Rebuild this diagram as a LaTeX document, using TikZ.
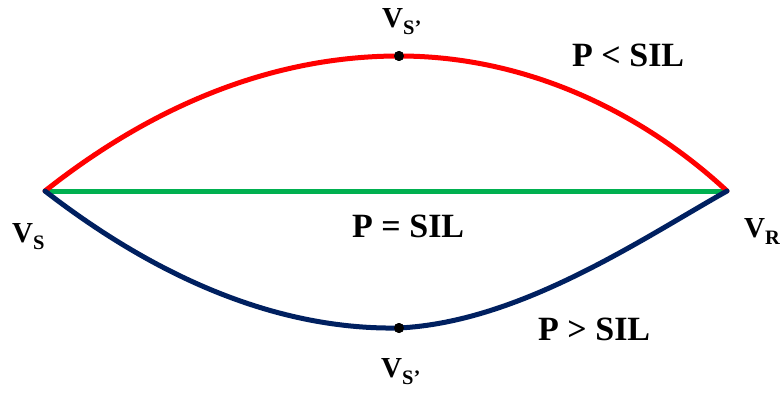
\documentclass[tikz,border=0pt]{standalone}
\usepackage{fontspec}
\setmainfont{Liberation Serif}
\definecolor{cred}{RGB}{255,0,0}
\definecolor{cgreen}{RGB}{0,176,80}
\definecolor{cblue}{RGB}{0,32,96}
\newcommand{\vsub}[1]{V\raisebox{-7pt}{\fontsize{20.5}{20.5}\selectfont #1}}
\begin{document}
\begin{tikzpicture}[x=1pt,y=-1pt,
  curve/.style={line width=5pt},
  lbl/.style={font=\fontsize{34}{34}\selectfont\bfseries, inner sep=0pt, anchor=base west},
  vlbl/.style={font=\fontsize{29}{29}\selectfont\bfseries, inner sep=0pt, anchor=base west},
  dot/.style={circle, fill=black, inner sep=0pt, minimum size=10pt}]
\useasboundingbox (0,0) rectangle (782,401);
\coordinate (vs) at (45,191);
\coordinate (vr) at (727,191);
\node[dot] (top) at (399,56) {};
\node[dot] (bot) at (399,328) {};
\draw[curve, cgreen] (vs) -- (vr);
\draw[curve, cred, line cap=round] (vs) .. controls (160,100) and (280,56) .. (top.center)
  .. controls (530,56) and (645,115) .. (vr);
\draw[curve, cblue, line cap=round] (vs) .. controls (160,280) and (280,330) .. (bot.center)
  .. controls (520,322) and (640,240) .. (vr);
\node[dot] at (399,56) {};
\node[dot] at (399,328) {};
\node[vlbl] (ltop) at (382,28) {\vsub{S’}};
\node[vlbl] (lbot) at (381,377) {\vsub{S’}};
\node[vlbl] (lvs) at (12,242) {\vsub{S}};
\node[vlbl] (lvr) at (744,237) {\vsub{R}};
\node[lbl] (plt) at (572,67) {P < SIL};
\node[lbl] (peq) at (352,237) {P = SIL};
\node[lbl] (pgt) at (538,340) {P > SIL};
\end{tikzpicture}
\end{document}
